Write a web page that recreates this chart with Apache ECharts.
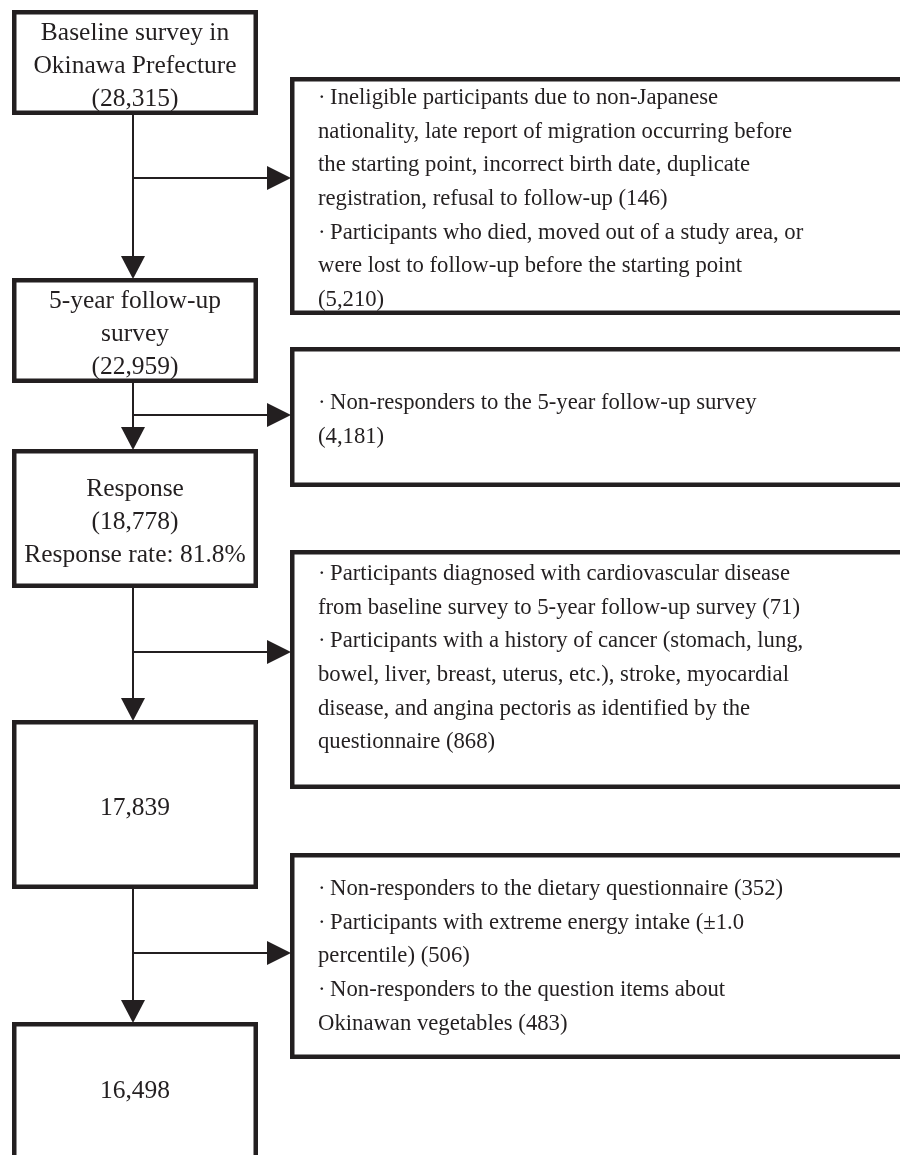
<!DOCTYPE html>
<html>
<head>
<meta charset="utf-8">
<script src="https://cdn.jsdelivr.net/npm/echarts@6/dist/echarts.min.js"></script>
<style>
html,body{margin:0;padding:0;background:#fff;}
#chart{width:900px;height:1155px;}
</style>
</head>
<body>
<div id="chart"></div>
<script>
// ---- data ----
const stageLabels = [
  'Baseline survey in\nOkinawa Prefecture',
  '5-year follow-up\nsurvey',
  'Response',
  '',
  ''
];
const stageCounts = ['(28,315)', '(22,959)', '(18,778)', '17,839', '16,498'];
const stageExtra = ['', '', 'Response rate: 81.8%', '', ''];
const B = '\u00B7\u2009';
const exclusionTexts = [
  B + 'Ineligible participants due to non-Japanese\nnationality, late report of migration occurring before\nthe starting point, incorrect birth date, duplicate\nregistration, refusal to follow-up (146)\n' + B + 'Participants who died, moved out of a study area, or\nwere lost to follow-up before the starting point\n(5,210)',
  B + 'Non-responders to the 5-year follow-up survey\n(4,181)',
  B + 'Participants diagnosed with cardiovascular disease\nfrom baseline survey to 5-year follow-up survey (71)\n' + B + 'Participants with a history of cancer (stomach, lung,\nbowel, liver, breast, uterus, etc.), stroke, myocardial\ndisease, and angina pectoris as identified by the\nquestionnaire (868)',
  B + 'Non-responders to the dietary questionnaire (352)\n' + B + 'Participants with extreme energy intake (\u00B11.0\npercentile) (506)\n' + B + 'Non-responders to the question items about\nOkinawan vegetables (483)'
];

// ---- layout (chart units = pixels on hidden axes) ----
const mainX = [12, 258];
const mainY = [[10, 115], [278, 383], [449, 588], [720, 889], [1022, 1175]];
const sideX = [290, 915];
const sideY = [[77, 315], [347, 487], [550, 789], [853, 1059]];
const sideTextTop = [81, 386, 557, 872];
const arrowY = [178, 415, 652, 953];
const stemX = 133;
const INK = '#231f20';
const BORDER = 4.5;
const MAIN_FONT = '25.5px "Liberation Serif", "Times New Roman", serif';
const SIDE_FONT = '22.7px "Liberation Serif", "Times New Roman", serif';
const MAIN_LH = 33;
const SIDE_LH = 33.7;

const chart = echarts.init(document.getElementById('chart'), null, {renderer: 'canvas'});

function mainText(i) {
  const parts = [];
  if (stageLabels[i]) parts.push(stageLabels[i]);
  parts.push(stageCounts[i]);
  if (stageExtra[i]) parts.push(stageExtra[i]);
  return parts.join('\n');
}

const mainData = mainY.map((y, i) => [mainX[0], y[0], mainX[1], y[1], i]);
const sideData = sideY.map((y, i) => [sideX[0], y[0], sideX[1], y[1], i]);
const arrowData = arrowY.map((y, i) => [stemX, y, sideX[0], i]);
const downData = mainY.slice(1).map((y, i) => [stemX, mainY[i][1], y[0], i]);

function boxRender(textFn, mode) {
  return function (params, api) {
    const p0 = api.coord([api.value(0), api.value(1)]);
    const p1 = api.coord([api.value(2), api.value(3)]);
    const idx = api.value(4);
    const h = BORDER / 2;
    const children = [{
      type: 'rect',
      shape: {x: p0[0] + h, y: p0[1] + h, width: p1[0] - p0[0] - BORDER, height: p1[1] - p0[1] - BORDER},
      style: {fill: '#fff', stroke: INK, lineWidth: BORDER}
    }];
    if (mode === 'main') {
      const cy = idx === 4 ? api.coord([0, 1091])[1] : (p0[1] + p1[1]) / 2 + 4;
      children.push({
        type: 'text',
        style: {
          text: textFn(idx), x: (p0[0] + p1[0]) / 2, y: cy,
          font: MAIN_FONT, fill: INK, align: 'center', verticalAlign: 'middle', lineHeight: MAIN_LH
        }
      });
    } else {
      const ty = api.coord([0, sideTextTop[idx]])[1];
      children.push({
        type: 'text',
        style: {
          text: textFn(idx), x: p0[0] + 28, y: ty,
          font: SIDE_FONT, fill: INK, align: 'left', verticalAlign: 'top', lineHeight: SIDE_LH
        }
      });
    }
    return {type: 'group', children: children};
  };
}

chart.setOption({
  animation: false,
  backgroundColor: '#fff',
  grid: {left: 0, right: 0, top: 0, bottom: 0},
  xAxis: {type: 'value', min: 0, max: 900, show: false},
  yAxis: {type: 'value', min: 0, max: 1155, inverse: true, show: false},
  series: [
    {
      type: 'custom', clip: false, z: 1,
      data: arrowData,
      renderItem: function (params, api) {
        const s = api.coord([api.value(0), api.value(1)]);
        const t = api.coord([api.value(2), api.value(1)]);
        return {type: 'group', children: [
          {type: 'line', shape: {x1: s[0], y1: s[1], x2: t[0] - 20, y2: t[1]}, style: {stroke: INK, lineWidth: 2}},
          {type: 'polygon', shape: {points: [[t[0] + 1, t[1]], [t[0] - 23, t[1] - 12], [t[0] - 23, t[1] + 12]]}, style: {fill: INK}}
        ]};
      }
    },
    {
      type: 'custom', clip: false, z: 1,
      data: downData,
      renderItem: function (params, api) {
        const s = api.coord([api.value(0), api.value(1)]);
        const t = api.coord([api.value(0), api.value(2)]);
        return {type: 'group', children: [
          {type: 'line', shape: {x1: s[0], y1: s[1], x2: t[0], y2: t[1] - 20}, style: {stroke: INK, lineWidth: 2}},
          {type: 'polygon', shape: {points: [[t[0], t[1] + 1], [t[0] - 12, t[1] - 22], [t[0] + 12, t[1] - 22]]}, style: {fill: INK}}
        ]};
      }
    },
    {
      type: 'custom', clip: false, z: 2,
      data: mainData,
      renderItem: boxRender(mainText, 'main')
    },
    {
      type: 'custom', clip: false, z: 2,
      data: sideData,
      renderItem: boxRender(i => exclusionTexts[i], 'side')
    }
  ]
});
</script>
</body>
</html>
